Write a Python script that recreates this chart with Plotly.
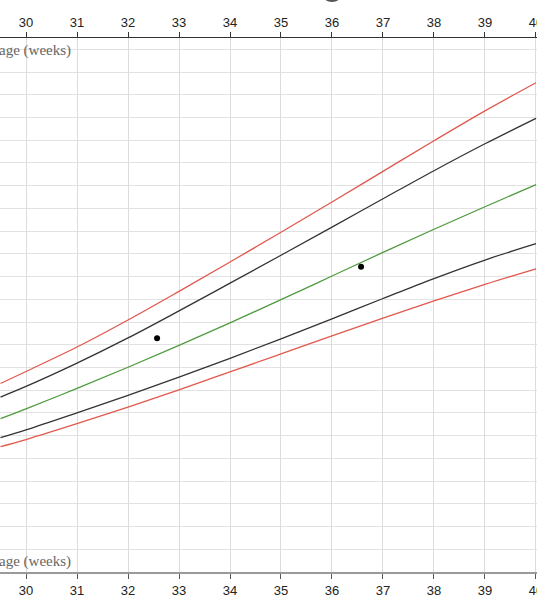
import plotly.graph_objects as go

weeks = [29.5, 30, 31, 32, 33, 34, 35, 36, 37, 38, 39, 40]
upper_red = [1659, 1765, 1980, 2218, 2470, 2728, 2990, 3256, 3526, 3796, 4059, 4306]
upper_black = [1540, 1633, 1838, 2060, 2298, 2542, 2788, 3036, 3285, 3532, 3769, 3993]
median_green = [1350, 1436, 1616, 1802, 1995, 2193, 2397, 2605, 2813, 3017, 3215, 3409]
lower_black = [1182, 1251, 1401, 1555, 1715, 1881, 2052, 2228, 2407, 2583, 2746, 2890]
lower_red = [1103, 1166, 1305, 1451, 1604, 1761, 1920, 2079, 2235, 2387, 2532, 2669]

obs_weeks = [32.57, 36.57]
obs_values = [2058, 2687]

tick_weeks = [30, 31, 32, 33, 34, 35, 36, 37, 38, 39, 40]
axis_title = "age (weeks)"

RED = "#e0584e"
BLACK = "#333333"
GREEN = "#4f9a3f"

fig = go.Figure()
for ys, col in [(upper_red, RED), (upper_black, BLACK), (median_green, GREEN),
                (lower_black, BLACK), (lower_red, RED)]:
    fig.add_trace(go.Scatter(x=weeks, y=ys, mode="lines",
                             line=dict(color=col, width=1.3, shape="spline", smoothing=1),
                             showlegend=False, hoverinfo="skip"))
fig.add_trace(go.Scatter(x=obs_weeks, y=obs_values, mode="markers",
                         marker=dict(color="black", size=6), showlegend=False))
# invisible trace to anchor top axis
fig.add_trace(go.Scatter(x=[weeks[0]], y=[median_green[0]], xaxis="x2", mode="markers",
                         marker=dict(opacity=0), showlegend=False, hoverinfo="skip"))

xr = [29.49, 40.02]
common = dict(range=xr, tickmode="array", tickvals=tick_weeks, ticktext=[str(t) for t in tick_weeks],
              showgrid=True, gridcolor="#dcdcdc", gridwidth=1, zeroline=False, automargin=False,
              ticks="outside", ticklen=5, tickfont=dict(family="Liberation Sans, Arial", size=13, color="#222"),
              ticklabeloverflow="allow", showline=True)
fig.update_layout(
    width=537, height=600, autosize=False,
    margin=dict(l=0, r=0, t=38, b=28),
    paper_bgcolor="white", plot_bgcolor="white",
    xaxis=dict(**common, linecolor="#9a9a9a", linewidth=2, tickcolor="#555"),
    xaxis2=dict(**common, overlaying="x", side="top", linecolor="#333", linewidth=1.2, tickcolor="#333"),
    yaxis=dict(range=[0, 4700], tick0=0, dtick=200, showgrid=True, gridcolor="#e2e2e2", gridwidth=1,
               showticklabels=False, zeroline=False, ticks="", automargin=False),
    annotations=[
        dict(text=axis_title, xref="paper", yref="paper", x=0, y=1, xanchor="left", yanchor="top",
             yshift=-2, xshift=-3, showarrow=False,
             font=dict(family="Liberation Serif, Times New Roman", size=15, color="#666")),
        dict(text=axis_title, xref="paper", yref="paper", x=0, y=0, xanchor="left", yanchor="bottom",
             yshift=0, xshift=-3, showarrow=False,
             font=dict(family="Liberation Serif, Times New Roman", size=15, color="#666")),
    ],
    shapes=[dict(type="circle", xref="paper", yref="paper", x0=320/537, x1=344/537,
                 y0=1 + 36/534, y1=1 + 60/534, fillcolor="#555", line=dict(width=0))],
)
fig.write_html("out.html",
               config={"displayModeBar": False, "responsive": False},
               post_script="document.body.style.margin='0';document.body.style.overflow='hidden';")
